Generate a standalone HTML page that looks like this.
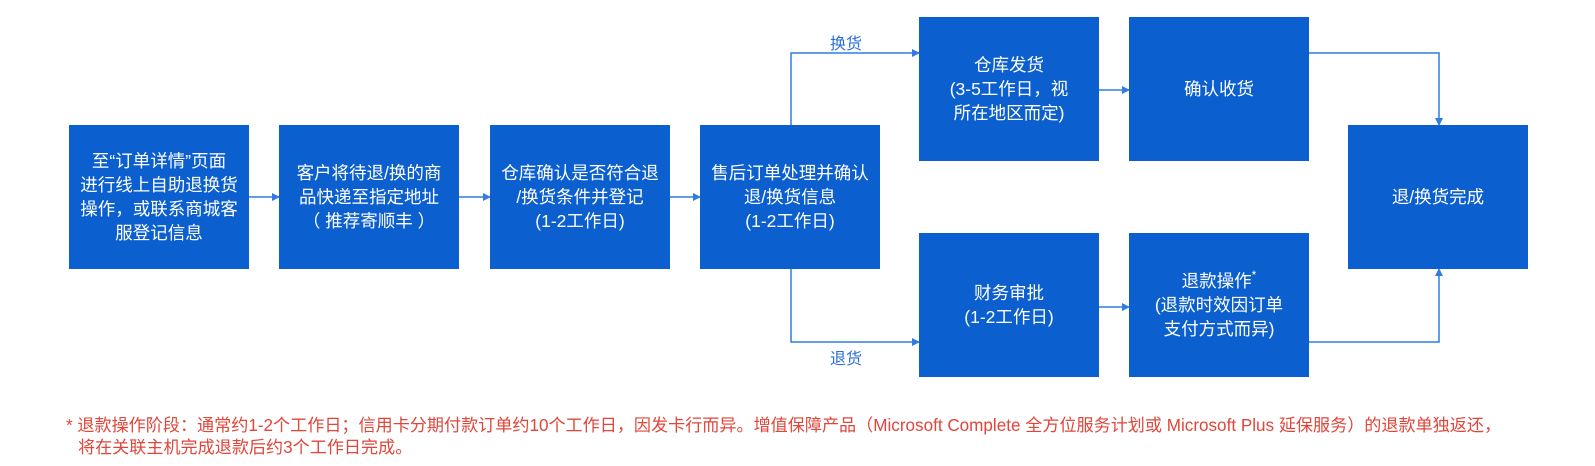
<!DOCTYPE html>
<html><head><meta charset="utf-8"><style>
body{margin:0;width:1595px;height:466px;background:#fff;position:relative;overflow:hidden;font-family:"Liberation Sans","Noto Sans CJK SC",sans-serif}
.b{position:absolute;width:180px;height:144px;background:#0b5fcf;color:#fff;font-size:17.5px;line-height:24px;display:flex;align-items:center;justify-content:center;text-align:center}
.l{position:absolute;color:#2a6fd6;font-size:16px}
.n{position:absolute;left:66px;color:#e0463a;font-size:17.1px;line-height:22px;white-space:nowrap}
svg{position:absolute;left:0;top:0}
</style></head><body>
<svg width="1595" height="466">
<defs><marker id="a" markerWidth="8" markerHeight="8" refX="7" refY="4" orient="auto" markerUnits="userSpaceOnUse"><path d="M0,0L8,4L0,8z" fill="#2f7de1"/></marker></defs>
<g stroke="#2f7de1" stroke-width="1.5" fill="none" marker-end="url(#a)">
<path d="M249,197H279"/><path d="M459,197H490"/><path d="M670,197H700"/>
<path d="M791,125V53H919"/><path d="M791,269V342H919"/>
<path d="M1099,90H1129"/><path d="M1099,307H1129"/>
<path d="M1309,53H1439V125"/><path d="M1309,342H1439V269"/>
</g></svg>
<div class="b" style="left:69px;top:125px"><div>至“订单详情”页面<br>进行线上自助退换货<br>操作，或联系商城客<br>服登记信息</div></div>
<div class="b" style="left:279px;top:125px"><div>客户将待退/换的商<br>品快递至指定地址<br>（ 推荐寄顺丰 ）</div></div>
<div class="b" style="left:490px;top:125px"><div>仓库确认是否符合退<br>/换货条件并登记<br>(1-2工作日)</div></div>
<div class="b" style="left:700px;top:125px"><div>售后订单处理并确认<br>退/换货信息<br>(1-2工作日)</div></div>
<div class="b" style="left:919px;top:17px"><div>仓库发货<br>(3-5工作日，视<br>所在地区而定)</div></div>
<div class="b" style="left:1129px;top:17px"><div>确认收货</div></div>
<div class="b" style="left:1348px;top:125px"><div>退/换货完成</div></div>
<div class="b" style="left:919px;top:233px"><div>财务审批<br>(1-2工作日)</div></div>
<div class="b" style="left:1129px;top:233px"><div>退款操作<span style="font-size:12px;vertical-align:top;line-height:12px">*</span><br>(退款时效因订单<br>支付方式而异)</div></div>
<div class="l" style="left:830px;top:30px">换货</div>
<div class="l" style="left:830px;top:345px">退货</div>
<div class="n" style="top:415px">* 退款操作阶段：通常约1-2个工作日；信用卡分期付款订单约10个工作日，因发卡行而异。增值保障产品（Microsoft Complete 全方位服务计划或 Microsoft Plus 延保服务）的退款单独返还，</div>
<div class="n" style="top:437px;left:78px">将在关联主机完成退款后约3个工作日完成。</div>
</body></html>
